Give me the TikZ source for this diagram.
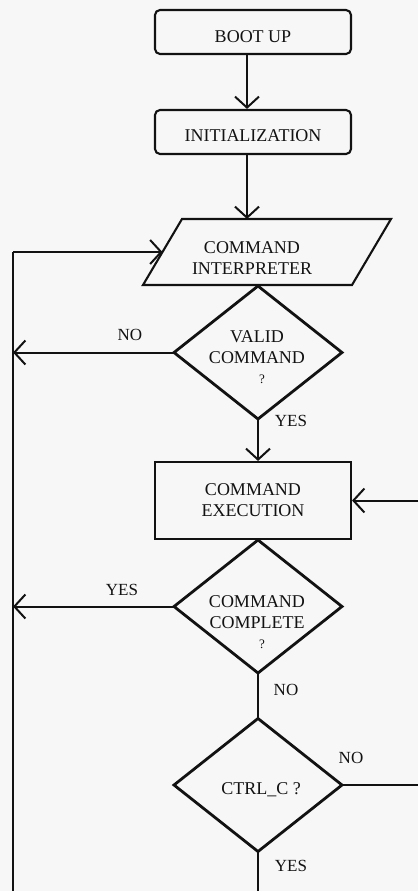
\documentclass[tikz,border=0pt]{standalone}
\usepackage{fontspec}
\setmainfont{Liberation Serif}
\usetikzlibrary{shapes.geometric,arrows.meta}
\definecolor{paper}{RGB}{247,247,247}
\definecolor{ink}{RGB}{18,18,18}
\newcommand{\qmark}{{\fontsize{13}{15}\selectfont\hspace*{10pt}?}}

\begin{document}
\begin{tikzpicture}[x=1pt,y=-1pt,
  every node/.style={font=\fontsize{18}{21}\selectfont, text=ink, inner sep=0pt},
  box/.style={draw=ink, line width=2.1pt, minimum width=196pt, align=center},
  rbox/.style={box, rounded corners=5pt, minimum height=44pt},
  decision/.style={diamond, aspect=1.3, draw=ink, line width=2.8pt, minimum width=168pt,
                   minimum height=133pt, outer sep=0pt},
  inside/.style={align=center},
  tag/.style={font=\fontsize{17}{19}\selectfont},
  wire/.style={draw=ink, line width=2pt},
  flow/.style={wire, -{Straight Barb[length=11pt,width=24pt]}}
]

% page
\useasboundingbox (0,0) rectangle (418,891);
\fill[paper] (0,0) rectangle (418,891);

% guide coordinates
\coordinate (upspine) at (247,0);
\coordinate (rightedge) at (418,0);
\coordinate (bustop) at (13,252);
\coordinate (busbot) at (13,891);

% start and setup (text sits a little below the box centre)
\node[rbox, text height=22pt] (boot) at (253,32) {BOOT UP};
\node[rbox, text height=20pt] (init) at (253,132) {INITIALIZATION};

% interpreter (parallelogram)
\coordinate (ptl) at (182,219);
\coordinate (ptr) at (391,219);
\coordinate (pbr) at (352,285);
\coordinate (pbl) at (143,285);
\coordinate (pin) at (247,219);
\coordinate (pleft) at (162.5,252);
\draw[ink, line width=2.1pt, line join=miter] (ptl) -- (ptr) -- (pbr) -- (pbl) -- cycle;
\node[inside] (interp) at (252,258) {COMMAND\\INTERPRETER};

% decisions and execution
\node[decision] (valid) at (258,352.5) {};
\node[inside] (validtext) at (257,357) {VALID\\COMMAND\\[-1pt]\qmark};
\node[box, minimum height=77pt] (exec) at (253,500.5) {COMMAND\\EXECUTION};
\node[decision] (complete) at (258,606.5) {};
\node[inside] (completetext) at (257,622) {COMMAND\\COMPLETE\\[-1pt]\qmark};
\node[decision] (ctrl) at (258,785) {};
\node[inside] (ctrltext) at (261,790) {CTRL\_C ?};

% connectors
\draw[flow] (boot.south -| upspine) -- (init.north -| upspine);
\draw[flow] (init.south -| upspine) -- (pin);
\draw[wire] (busbot) -- (bustop);
\draw[flow] (bustop) -- (pleft);
\draw[flow] (valid.west) -- (valid.west -| bustop);
\draw[flow] (valid.south) -- (valid.south |- exec.north);
\draw[flow] (complete.west) -- (complete.west -| bustop);
\draw[wire] (complete.south) -- (ctrl.north);
\draw[wire] (ctrl.east) -- (ctrl.east -| rightedge);
\draw[flow] (exec.east -| rightedge) -- (exec.east);
\draw[wire] (ctrl.south) -- (ctrl.south |- busbot);

% branch labels
\node[tag] (lvalidno) at (130,335) {NO};
\node[tag] (lvalidyes) at (291,421) {YES};
\node[tag] (lcompleteyes) at (122,590) {YES};
\node[tag] (lcompleteno) at (286,690) {NO};
\node[tag] (lctrlno) at (351,757.5) {NO};
\node[tag] (lctrlyes) at (291,866) {YES};
\end{tikzpicture}
\end{document}
